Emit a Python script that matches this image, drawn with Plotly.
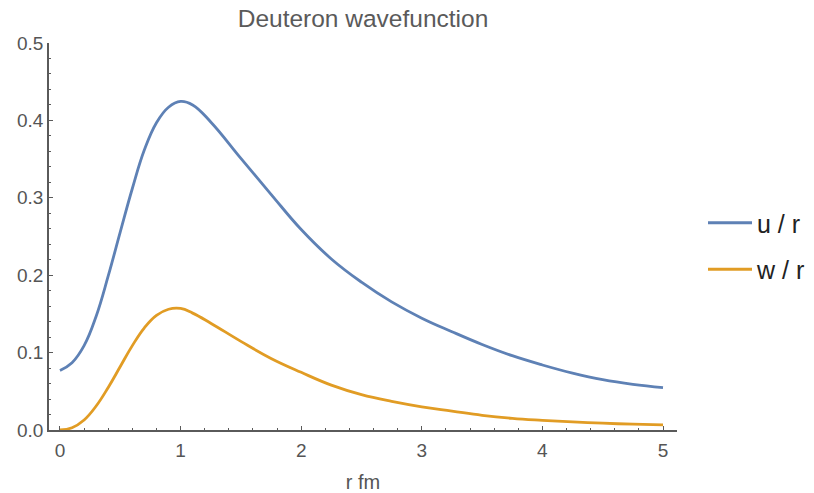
import plotly.graph_objects as go

# ---- data ----
r_u = [0.0, 0.1, 0.2, 0.3, 0.4, 0.5, 0.6, 0.7, 0.8, 0.9, 1.0, 1.1, 1.25,
       1.5, 1.75, 2.0, 2.25, 2.5, 2.75, 3.0, 3.25, 3.5, 3.75, 4.0, 4.25,
       4.5, 4.75, 5.0]
u_over_r = [0.077, 0.087, 0.109, 0.147, 0.199, 0.256, 0.312, 0.362, 0.397,
            0.417, 0.4245, 0.420, 0.398, 0.351, 0.3045, 0.259, 0.221, 0.191,
            0.1655, 0.1445, 0.127, 0.1105, 0.096, 0.084, 0.0735, 0.065, 0.059,
            0.0548]

r_w = [0.0, 0.1, 0.2, 0.3, 0.4, 0.5, 0.6, 0.7, 0.8, 0.9, 1.0, 1.1, 1.25,
       1.5, 1.75, 2.0, 2.25, 2.5, 2.75, 3.0, 3.25, 3.5, 3.75, 4.0, 4.25,
       4.5, 4.75, 5.0]
w_over_r = [0.0, 0.003, 0.013, 0.031, 0.055, 0.082, 0.109, 0.132, 0.148,
            0.156, 0.157, 0.151, 0.138, 0.1145, 0.0925, 0.0745, 0.058, 0.0457,
            0.037, 0.030, 0.0245, 0.019, 0.015, 0.0125, 0.0105, 0.0088,
            0.0075, 0.0065]

series_names = ["u / r", "w / r"]
x_ticks = [0, 1, 2, 3, 4, 5]
y_ticks = [0.0, 0.1, 0.2, 0.3, 0.4, 0.5]

BLUE = "#5E81B5"
ORANGE = "#E19C24"
AXIS = "#5a5a5a"
FONT = "Liberation Sans, Arial, Helvetica, sans-serif"

fig = go.Figure()
fig.add_trace(go.Scatter(x=r_u, y=u_over_r, mode="lines", name=series_names[0],
                         legendgroup="a",
                         line=dict(color=BLUE, width=2.8, shape="spline", smoothing=1.2),
                         cliponaxis=False))
fig.add_trace(go.Scatter(x=r_w, y=w_over_r, mode="lines", name=series_names[1],
                         legendgroup="b",
                         line=dict(color=ORANGE, width=2.8, shape="spline", smoothing=1.2),
                         cliponaxis=False))

fig.update_layout(
    template="none",
    width=814, height=493,
    margin=dict(l=49, r=137, t=43, b=63, pad=0),
    paper_bgcolor="white", plot_bgcolor="white",
    font=dict(family=FONT, color="#555555", size=19),
    title=dict(text="Deuteron wavefunction", x=(49 + 677) / 2 / 814, xanchor="center",
               xref="container",
               y=1 - 18 / 493, yanchor="middle", yref="container",
               font=dict(size=24.5, color="#5a5a5a", family=FONT)),
    showlegend=True,
    legend=dict(xref="container", yref="container",
                x=703 / 814, xanchor="left", y=1 - 246 / 493, yanchor="middle",
                font=dict(size=25, color="#222222", family=FONT),
                tracegroupgap=11, itemwidth=44,
                bgcolor="rgba(0,0,0,0)", borderwidth=0),
    xaxis=dict(range=[-0.091, 5.116], tickvals=x_ticks,
               ticktext=[str(v) for v in x_ticks], automargin=False,
               showgrid=False, zeroline=False, showline=True, linecolor=AXIS,
               linewidth=1.5, ticks="inside", ticklen=4, tickwidth=1.2,
               tickcolor=AXIS, tickfont=dict(size=19, color="#555555"),
               ticklabelstandoff=2,
               minor=dict(dtick=0.2, tick0=0, ticks="inside", ticklen=2.5,
                          tickcolor=AXIS, tickwidth=1, showgrid=False),
               title=dict(text="r fm", font=dict(size=20, color="#555555"), standoff=15),
               fixedrange=True),
    yaxis=dict(range=[0, 0.5], tickvals=y_ticks,
               ticktext=[f"{v:.1f}" for v in y_ticks], automargin=False,
               showgrid=False, zeroline=False, showline=True, linecolor=AXIS,
               linewidth=1.5, ticks="inside", ticklen=4, tickwidth=1.2,
               tickcolor=AXIS, tickfont=dict(size=19, color="#555555"),
               minor=dict(dtick=0.02, tick0=0, ticks="inside", ticklen=2.5,
                          tickcolor=AXIS, tickwidth=1, showgrid=False),
               fixedrange=True),
)

fig.write_html("out.html", config={"displayModeBar": False},
               post_script="document.body.style.margin='0';")
